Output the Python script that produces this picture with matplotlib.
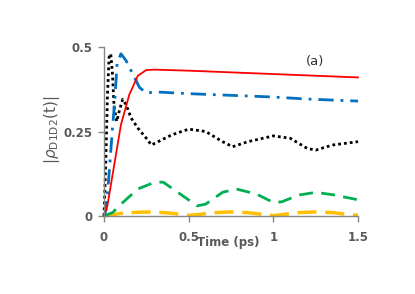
import matplotlib
matplotlib.use("Agg")
import matplotlib.pyplot as plt
import numpy as np

# Data
t_red = [0, 0.02, 0.05, 0.1, 0.15, 0.2, 0.25, 0.3, 0.5, 0.75, 1.0, 1.25, 1.5]
v_red = [0, 0.03, 0.12, 0.27, 0.36, 0.415, 0.432, 0.433, 0.43, 0.425, 0.42, 0.415, 0.41]

t_blue = [0, 0.012, 0.024, 0.035, 0.05, 0.065, 0.077, 0.1, 0.13, 0.17, 0.21, 0.25, 0.31, 0.5, 0.75, 1.0, 1.2, 1.5]
v_blue = [0, 0.018, 0.086, 0.157, 0.26, 0.35, 0.45, 0.48, 0.46, 0.42, 0.38, 0.364, 0.367, 0.362, 0.357, 0.352, 0.346, 0.34]

t_black = [0, 0.01, 0.02, 0.03, 0.04, 0.05, 0.06, 0.075, 0.09, 0.11, 0.13, 0.16, 0.2, 0.25, 0.28,
           0.32, 0.4, 0.5, 0.6, 0.7, 0.76, 0.85, 1.0, 1.1, 1.2, 1.25, 1.35, 1.5]
v_black = [0, 0.15, 0.35, 0.47, 0.48, 0.42, 0.32, 0.28, 0.31, 0.345, 0.33, 0.29, 0.26, 0.23, 0.21,
           0.22, 0.24, 0.257, 0.25, 0.22, 0.205, 0.22, 0.237, 0.23, 0.2, 0.195, 0.21, 0.22]

t_green = [0, 0.05, 0.1, 0.2, 0.3, 0.35, 0.45, 0.55, 0.6, 0.7, 0.78, 0.9, 1.0, 1.05, 1.15, 1.25, 1.35, 1.5]
v_green = [0, 0.01, 0.035, 0.08, 0.1, 0.1, 0.065, 0.03, 0.035, 0.07, 0.08, 0.065, 0.04, 0.042, 0.062, 0.07, 0.063, 0.048]

t_yellow = [0, 0.05, 0.1, 0.2, 0.3, 0.4, 0.5, 0.55, 0.65, 0.75, 0.85, 0.95, 1.0, 1.05, 1.15, 1.25, 1.35, 1.45, 1.5]
v_yellow = [0, 0.004, 0.008, 0.011, 0.012, 0.008, 0.002, 0.004, 0.01, 0.012, 0.01, 0.004, 0.001, 0.004, 0.01, 0.012, 0.01, 0.004, 0.002]

xticks = [0, 0.5, 1, 1.5]
xticklabels = ["0", "0.5", "1", "1.5"]
yticks = [0, 0.25, 0.5]
yticklabels = ["0", "0.25", "0.5"]

plt.rcParams["mathtext.fontset"] = "dejavusans"

fig = plt.figure(figsize=(4.15, 2.94), dpi=100)
ax = fig.add_axes([0.2506, 0.2653, 0.6121, 0.5748])

ax.plot(t_yellow, v_yellow, color="#FFC000", lw=2.5, ls=(0, (5.5, 2.5)), clip_on=False)
ax.plot(t_green, v_green, color="#00B050", lw=2.0, ls=(0, (5, 3)), clip_on=False)
ax.plot(t_black, v_black, color="black", lw=2.0, ls=(0, (1, 1.1)), clip_on=False)
ax.plot(t_blue, v_blue, color="#0070C0", lw=2.0, ls=(0, (5.5, 2.5, 1, 2.5)), clip_on=False)
ax.plot(t_red, v_red, color="#FF0000", lw=1.3, clip_on=False)

ax.set_xlim(0, 1.5)
ax.set_ylim(0, 0.5)
ax.set_xticks(xticks)
ax.set_xticklabels(xticklabels)
ax.set_yticks(yticks)
ax.set_yticklabels(yticklabels)

for s in ["top", "right"]:
    ax.spines[s].set_visible(False)
for s in ["left", "bottom"]:
    ax.spines[s].set_color("#868686")
    ax.spines[s].set_linewidth(1.0)

ax.tick_params(axis="both", colors="#868686", length=4, width=1.0, direction="out",
               labelcolor="#595959", labelsize=8.5, pad=7)
ax.tick_params(axis="y", pad=4)
for lab in ax.get_xticklabels() + ax.get_yticklabels():
    lab.set_fontweight("bold")

fig.text(0.125, 0.56, r"$|\rho_{\mathrm{D1D2}}(\mathrm{t})|$", rotation=90,
         ha="center", va="center", fontsize=11, color="#595959")
fig.text(0.55, 0.175, "Time (ps)", ha="center", va="center", fontsize=8.5,
         color="#595959", fontweight="bold")
fig.text(0.76, 0.79, "(a)", ha="center", va="center", fontsize=9.5, color="#333333")

fig.savefig("out.png", dpi=100)
